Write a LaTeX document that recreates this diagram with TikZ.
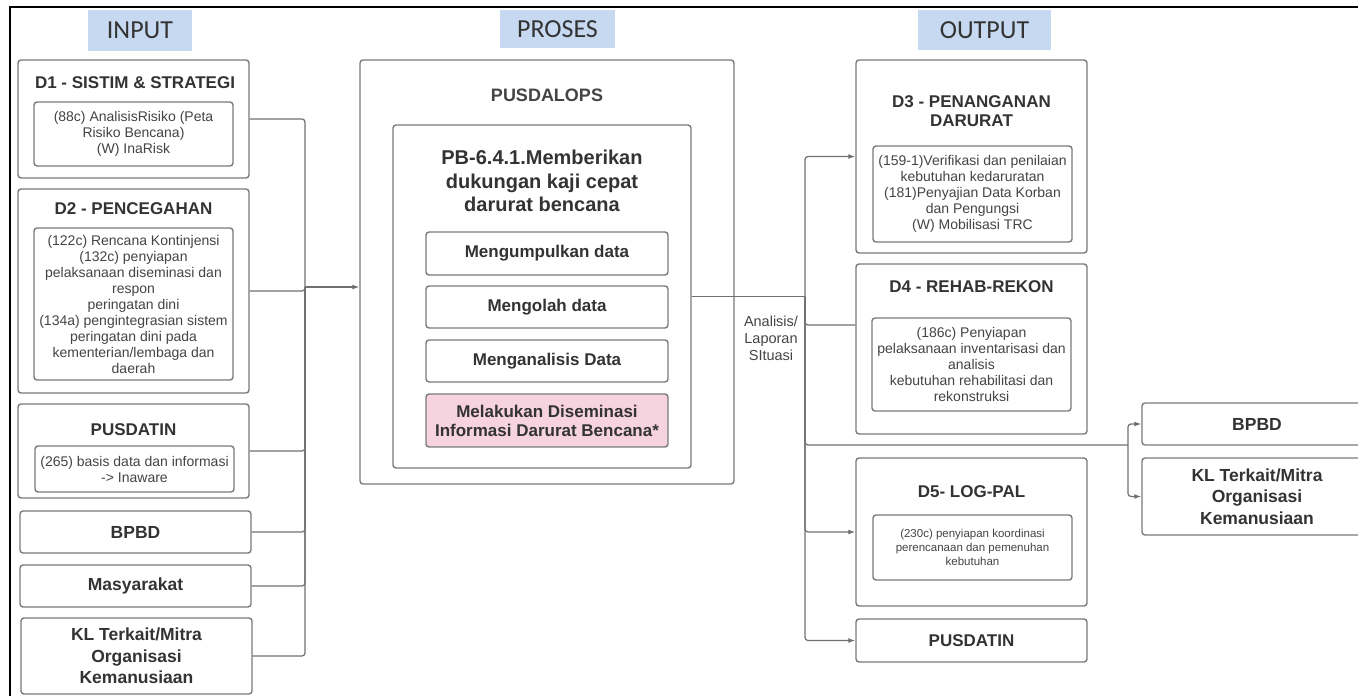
\documentclass[tikz,border=0pt]{standalone}
\usepackage{fontspec}
\setmainfont{Liberation Sans}
\newfontfamily\headfont{Carlito}
\usetikzlibrary{arrows.meta}

\definecolor{boxgray}{HTML}{7A7A7A}
\definecolor{linegray}{HTML}{707070}
\definecolor{txtgray}{HTML}{333333}
\definecolor{infogray}{HTML}{444444}
\definecolor{headblue}{HTML}{C6D9F1}
\definecolor{diseminasi}{HTML}{F6D3DE}

\tikzset{
  box/.style={draw=boxgray, line width=1.4pt, rounded corners=3pt, fill=white, inner sep=0pt},
  head/.style={fill=headblue, text=txtgray, font=\headfont\fontsize{26}{30}\selectfont, inner sep=0pt},
  ttl/.style={text=txtgray, font=\bfseries\fontsize{17}{19}\selectfont, align=center},
  big/.style={ttl, font=\bfseries\fontsize{17.5}{21.5}\selectfont},
  info/.style={text=infogray, font=\fontsize{14}{16}\selectfont, align=center},
  link/.style={draw=linegray, line width=1.2pt, rounded corners=3pt},
  arr/.style={link, -{Latex[length=7pt,width=5pt]}},
}

\begin{document}
\begin{tikzpicture}[x=1pt, y=1pt]
    \useasboundingbox (0,0) rectangle (1358,-696);
    \clip (0,0) rectangle (1358,-696);
    \draw[line width=2pt] (10,-696) -- (10,-7) -- (1358,-7);

    % headings
    \node[head, minimum width=104, minimum height=41] (inhead) at (140,-30) {INPUT};
    \node[head, minimum width=115, minimum height=38] (proshead) at (557.5,-29) {PROSES};
    \node[head, minimum width=133, minimum height=40] (outhead) at (984.5,-30) {OUTPUT};

    % input side
    \node[box, minimum width=231, minimum height=118] (d1) at (133.5,-119) {};
    \node[ttl] (d1t) at (135,-83) {D1 - SISTIM \& STRATEGI};
    \node[box, info, minimum width=199, minimum height=64] (d1i) at (133.5,-134)
        {(88c) AnalisisRisiko (Peta\\Risiko Bencana)\\(W) InaRisk};

    \node[box, minimum width=231, minimum height=204] (d2) at (133.5,-291) {};
    \node[ttl] (d2t) at (133.5,-209) {D2 - PENCEGAHAN};
    \node[box, info, minimum width=199, minimum height=152] (d2i) at (133.5,-304)
        {(122c) Rencana Kontinjensi\\(132c) penyiapan\\pelaksanaan diseminasi dan\\respon\\peringatan dini\\(134a) pengintegrasian sistem\\peringatan dini pada\\kementerian/lembaga dan\\daerah};

    \node[box, minimum width=231, minimum height=94] (pusdatin) at (133.5,-451) {};
    \node[ttl] (pusdatint) at (133.5,-430) {PUSDATIN};
    \node[box, info, minimum width=199, minimum height=46] (pusdatini) at (134.5,-469)
        {(265) basis data dan informasi\\-> Inaware};

    \node[box, big, minimum width=231, minimum height=42] (bpbd) at (135.5,-532) {BPBD};
    \node[box, big, minimum width=231, minimum height=42] (masy) at (135.5,-586) {Masyarakat};
    \node[box, big, minimum width=231, minimum height=76] (kl) at (136.5,-656)
        {KL Terkait/Mitra\\Organisasi\\Kemanusiaan};

    % proses
    \node[box, minimum width=374, minimum height=424] (pusdalops) at (547,-272) {};
    \node[ttl, text=infogray, font=\bfseries\fontsize{18}{21}\selectfont] (pusdalopst) at (547,-95) {PUSDALOPS};
    \node[box, minimum width=298, minimum height=343] (pb) at (542,-296.5) {};
    \node[ttl, font=\bfseries\fontsize{20}{23.5}\selectfont] (pbt) at (542,-181)
        {PB-6.4.1.Memberikan\\dukungan kaji cepat\\darurat bencana};
    \node[box, ttl, minimum width=242, minimum height=43] (s1) at (547,-253.5) {Mengumpulkan data};
    \node[box, ttl, minimum width=242, minimum height=42] (s2) at (547,-307) {Mengolah data};
    \node[box, ttl, minimum width=242, minimum height=42] (s3) at (547,-361) {Menganalisis Data};
    \node[box, ttl, fill=diseminasi, minimum width=242, minimum height=53] (s4) at (547,-420.5)
        {Melakukan Diseminasi\\Informasi Darurat Bencana*};

    % output side
    \node[box, minimum width=231, minimum height=193] (d3) at (971.5,-156.5) {};
    \node[ttl] (d3t) at (971.5,-111) {D3 - PENANGANAN\\DARURAT};
    \node[box, info, minimum width=199, minimum height=96] (d3i) at (972.5,-194)
        {(159-1)Verifikasi dan penilaian\\kebutuhan kedaruratan\\(181)Penyajian Data Korban\\dan Pengungsi\\(W) Mobilisasi TRC};

    \node[box, minimum width=231, minimum height=170] (d4) at (971.5,-349) {};
    \node[ttl] (d4t) at (971.5,-287) {D4 - REHAB-REKON};
    \node[box, info, minimum width=199, minimum height=93] (d4i) at (971.5,-364.5)
        {(186c) Penyiapan\\pelaksanaan inventarisasi dan\\analisis\\kebutuhan rehabilitasi dan\\rekonstruksi};

    \node[box, minimum width=231, minimum height=148] (d5) at (971.5,-532) {};
    \node[ttl] (d5t) at (971.5,-492) {D5- LOG-PAL};
    \node[box, info, font=\fontsize{11.5}{14}\selectfont, minimum width=199, minimum height=65] (d5i) at (972.5,-547.5)
        {(230c) penyiapan koordinasi\\perencanaan dan pemenuhan\\kebutuhan};

    \node[box, ttl, minimum width=231, minimum height=43] (pusdatino) at (971.5,-640.5) {PUSDATIN};

    \node[box, big, minimum width=230, minimum height=42] (bpbdr) at (1257,-424) {BPBD};
    \node[box, big, minimum width=230, minimum height=77] (klr) at (1257,-496.5)
        {KL Terkait/Mitra\\Organisasi\\Kemanusiaan};

    \node[info, font=\fontsize{14.5}{17}\selectfont] (lapor) at (771,-338) {Analisis/\\Laporan\\SItuasi};

    % connectors
    \coordinate (jn) at (305,-287);
    \foreach \n in {d1,d2,pusdatin,bpbd,masy,kl}
        \draw[link] (\n.east) -| (jn);
    \draw[arr] (jn) -- (jn -| pusdalops.west);

    \coordinate (split) at (805,-296.5);
    \coordinate (hub) at (1128,-445);
    \draw[link] (pb.east) -- (split);
    \draw[arr] (split) |- (d3.west);
    \draw[link] (split) |- ([yshift=24]d4.west);
    \draw[arr] (split) |- (d5.west);
    \draw[arr] (split) |- (pusdatino.west);
    \draw[link] (split) |- (hub);
    \draw[arr] (hub) |- (bpbdr.west);
    \draw[arr] (hub) |- (klr.west);
\end{tikzpicture}
\end{document}
